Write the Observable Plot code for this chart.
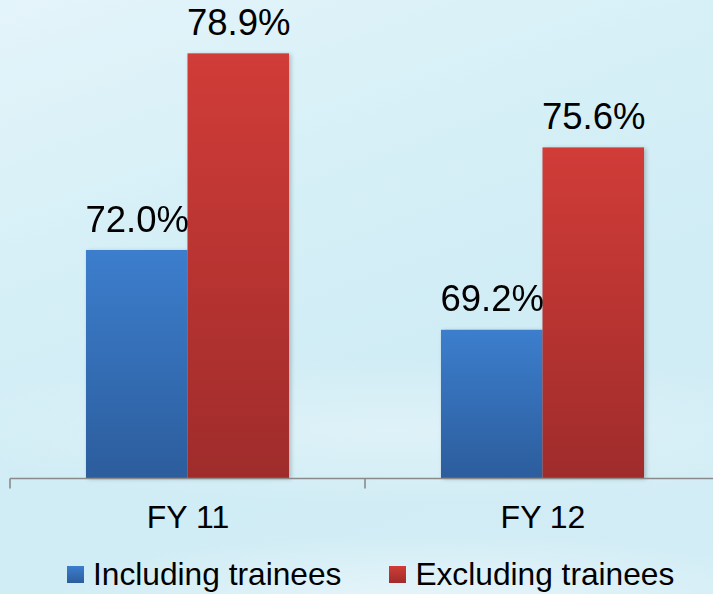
<!DOCTYPE html>
<html><head><meta charset="utf-8">
<script src="https://cdn.jsdelivr.net/npm/d3@7"></script>
<script src="https://cdn.jsdelivr.net/npm/@observablehq/plot@0.6"></script>
<style>
html,body{margin:0;padding:0;}
body{width:713px;height:594px;overflow:hidden;position:relative;font-family:"Liberation Sans",Arial,sans-serif;
background:
 radial-gradient(ellipse 520px 90px at 60% 600px, rgba(255,255,255,0.45), rgba(255,255,255,0) 75%),
 radial-gradient(ellipse 700px 110px at 55% 430px, rgba(255,255,255,0.30), rgba(255,255,255,0) 70%),
 linear-gradient(160deg, #e4f4fa 0%, #d7f0f7 30%, #d0ecf5 60%, #d3edf6 100%);}
#chart{position:absolute;left:0;top:0;}
#legend{position:absolute;left:67px;top:559px;width:660px;display:flex;align-items:center;white-space:nowrap;font-size:31.7px;line-height:31px;color:#000;}
.item{display:flex;align-items:center;margin-right:48px;flex:none;white-space:nowrap;}
.sw{width:17px;height:17px;margin-right:9px;flex:none;}
</style></head><body>
<div id="chart"></div>
<div id="legend"></div>
<script>
const categories = ["FY 11", "FY 12"];
const seriesNames = ["Including trainees", "Excluding trainees"];
const including = [72.0, 69.2];
const excluding = [78.9, 75.6];
const yDomain = [64, 80];
const seriesColors = [["#3c7ecd", "#2c5d9d"], ["#d13c38", "#9f2c2b"]];
const gradIds = ["gradIncl", "gradExcl"];

const data = categories.flatMap((c, i) => [
  {category: c, series: seriesNames[0], value: including[i]},
  {category: c, series: seriesNames[1], value: excluding[i]}
]);

const chart = Plot.plot({
  width: 713,
  height: 550,
  marginTop: 22,
  marginBottom: 72,
  marginLeft: 10,
  marginRight: 0,
  style: {background: "transparent", fontFamily: "'Liberation Sans', Arial, sans-serif", overflow: "visible"},
  fx: {domain: categories, range: [10, 720], paddingInner: 0.428, paddingOuter: 0.214, round: false, axis: null, label: null},
  x: {domain: seriesNames, padding: 0, round: false, axis: null, label: null},
  y: {domain: yDomain, axis: null, label: null},
  color: {domain: seriesNames, range: gradIds.map(id => `url(#${id})`)},
  facet: {data, x: "category"},
  marks: [
    Plot.barY(data, {x: "series", y1: yDomain[0], y2: "value", fill: "series", inset: 0}),
    Plot.text(data, {x: "series", y: "value", text: d => d.value.toFixed(1) + "%",
      lineAnchor: "bottom", dy: -19, fontSize: 36.5, fill: "#000"}),
    Plot.text(data, {filter: d => d.series === seriesNames[0], frameAnchor: "bottom", text: "category",
      lineAnchor: "bottom", dy: 49, fontSize: 32, fill: "#000"})
  ]
});
document.getElementById("chart").appendChild(chart);

const svg = d3.select(chart);
const defs = svg.insert("defs", ":first-child");
gradIds.forEach((id, i) => {
  const g = defs.append("linearGradient").attr("id", id).attr("x1", 0).attr("y1", 0).attr("x2", 0).attr("y2", 1);
  g.append("stop").attr("offset", "0%").attr("stop-color", seriesColors[i][0]);
  g.append("stop").attr("offset", "100%").attr("stop-color", seriesColors[i][1]);
});
// bar shadows via group filter
svg.selectAll("g[aria-label='bar']").attr("style", "filter: drop-shadow(2px 1px 2px rgba(0,0,0,0.22))");

// category axis: baseline and boundary ticks derived from Plot scales
const fx = chart.scale("fx"), y = chart.scale("y");
const bw = fx.bandwidth, step = fx.step;
const gap = step - bw;
const y0 = y.apply(yDomain[0]) + 0.5;
const bounds = categories.map(c => fx.apply(c) - gap / 2);
bounds.push(fx.apply(categories[categories.length - 1]) + bw + gap / 2);
const axis = svg.append("g").attr("stroke", "#8a8a8a").attr("stroke-width", 1.6);
axis.append("line").attr("x1", fx.range[0]).attr("x2", fx.range[1]).attr("y1", y0).attr("y2", y0);
bounds.forEach(b => axis.append("line").attr("x1", b).attr("x2", b).attr("y1", y0).attr("y2", y0 + 10));

// legend
const legend = d3.select("#legend");
seriesNames.forEach((s, i) => {
  const it = legend.append("div").attr("class", "item");
  it.append("div").attr("class", "sw").style("background", `linear-gradient(${seriesColors[i][0]}, ${seriesColors[i][1]})`);
  it.append("span").text(s);
});
</script>
</body></html>
